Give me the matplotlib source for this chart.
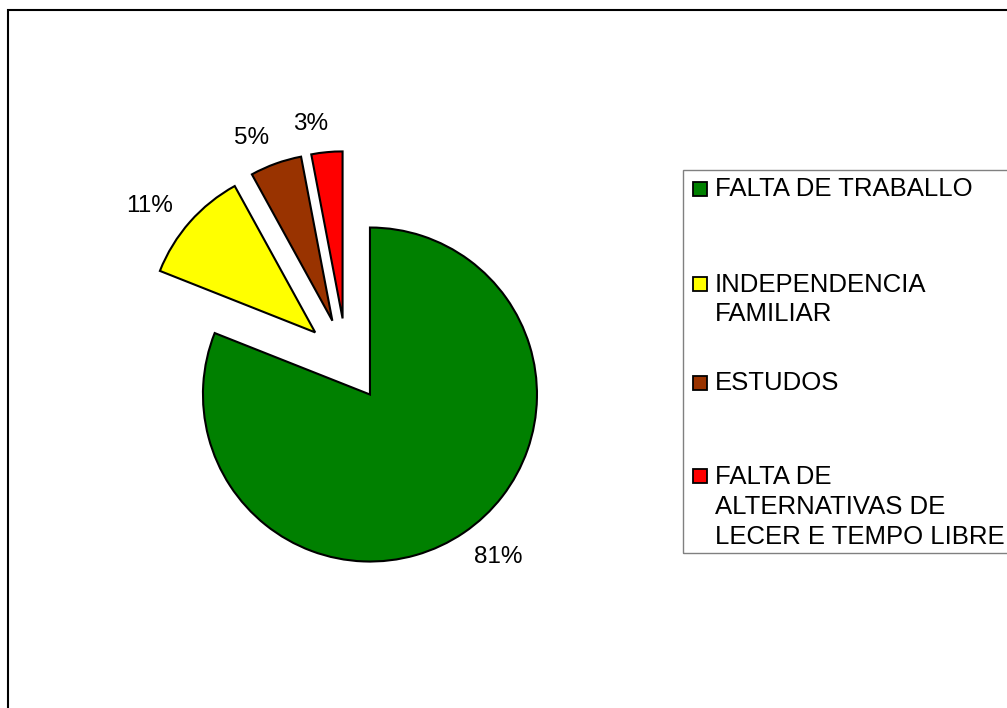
import textwrap
import numpy as np
import matplotlib
matplotlib.use("Agg")
import matplotlib.pyplot as plt
from matplotlib.patches import Rectangle

# Data
categories = [
    "FALTA DE TRABALLO",
    "INDEPENDENCIA FAMILIAR",
    "ESTUDOS",
    "FALTA DE ALTERNATIVAS DE LECER E TEMPO LIBRE",
]
shares = [81, 11, 5, 3]
colors = ["#008000", "#FFFF00", "#993300", "#FF0000"]
explode = [0.25, 0.25, 0.25, 0.25]

plt.rcParams["font.family"] = ["Liberation Sans", "DejaVu Sans"]

W, H, DPI = 1007, 708, 100
fig = plt.figure(figsize=(W / DPI, H / DPI), dpi=DPI)
fig.patch.set_facecolor("white")

# Pie axes spanning the figure, one data unit = pie radius in pixels
R = 167.0
cx, cy = 346.5, 360.0
ax = fig.add_axes([0, 0, 1, 1])
wedges, texts, autotexts = ax.pie(
    shares,
    colors=colors,
    explode=explode,
    startangle=90,
    counterclock=False,
    autopct="%1.0f%%",
    pctdistance=1.22,
    wedgeprops=dict(edgecolor="black", linewidth=1.5),
    textprops=dict(fontsize=17.5, color="black"),
)
ax.set_xlim(-cx / R, (W - cx) / R)
ax.set_ylim(-(H - cy) / R, cy / R)
ax.set_axis_off()

# Place each percentage just outside its slice, keeping a fixed gap
# between the arc and the label's box
fig.canvas.draw()
renderer = fig.canvas.get_renderer()
gap_px = 16.0
label_turn = 4.0
for w, t in zip(wedges, autotexts):
    ang = np.deg2rad(0.5 * (w.theta1 + w.theta2) + label_turn)
    bb = t.get_window_extent(renderer)
    support = abs(np.cos(ang)) * bb.width / 2 + abs(np.sin(ang)) * bb.height / 2
    dist = (R + gap_px + support) / R
    x0, y0 = w.center
    t.set_position((x0 + dist * np.cos(ang), y0 + dist * np.sin(ang)))
    t.set_ha("center")
    t.set_va("center")


def fx(px):
    return px / W


def fy(py):
    return 1 - py / H


# Outer chart frame (left and top edges visible)
fig.patches.append(Rectangle((fx(8), -0.5), 2.0, fy(10) + 0.5,
                             transform=fig.transFigure, fill=False,
                             edgecolor="black", linewidth=1.5, clip_on=False))

# Legend box
fig.patches.append(Rectangle((fx(683), fy(553)), 1.0, (553 - 170) / H,
                             transform=fig.transFigure, fill=False,
                             edgecolor="#808080", linewidth=1.0, clip_on=False))

baselines = [196.5, 291.5, 390.0, 483.5]
line_step = 30.0
for label, color, base in zip(categories, colors, baselines):
    fig.patches.append(Rectangle((fx(692.5), fy(base - 0.5)), 14 / W, 14 / H,
                                 transform=fig.transFigure, facecolor=color,
                                 edgecolor="black", linewidth=1.3))
    for k, line in enumerate(textwrap.fill(label, 20).split("\n")):
        fig.text(fx(715), fy(base + k * line_step), line, fontsize=18.5,
                 va="baseline", ha="left", color="black")

fig.savefig("out.png", dpi=DPI, facecolor="white")
